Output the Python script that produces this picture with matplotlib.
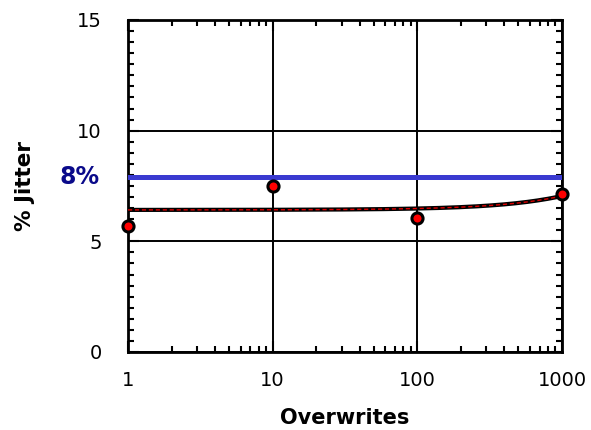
import numpy as np
import matplotlib.pyplot as plt
from matplotlib.ticker import MultipleLocator, LogLocator, NullFormatter, FixedLocator, FixedFormatter

# data
overwrites = [1, 10, 100, 1000]
jitter = [5.7, 7.5, 6.05, 7.15]

# straight-line fit (linear in overwrites) as drawn in the reference
fit_intercept = 6.42
fit_slope = 0.00063

target_level = 7.9
target_label = "8%"

x_ticks = [1, 10, 100, 1000]
x_tick_labels = ["1", "10", "100", "1000"]
y_ticks = [0, 5, 10, 15]

plt.rcParams["font.family"] = "DejaVu Sans"

fig = plt.figure(figsize=(5.91, 4.30), dpi=100)
ax = fig.add_axes([0.2166, 0.1814, 0.7344, 0.7721])

ax.set_xscale("log")
ax.set_xlim(1, 1000)
ax.set_ylim(0, 15)

# grid
ax.grid(True, which="major", color="black", linewidth=1.4)

# target line
ax.axhline(target_level, color="#3a3ad0", linewidth=3.6, zorder=3)

# fit line: black with red dashes on top
fit_x = np.logspace(0, 3, 300)
fit_y = fit_intercept + fit_slope * (fit_x - 1)
ax.plot(fit_x, fit_y, color="black", linewidth=3, zorder=4)
ax.plot(fit_x, fit_y, color="#dd0000", linewidth=1, linestyle=(0, (3, 2)), zorder=5)

# data points
ax.plot(overwrites, jitter, linestyle="none", marker="o", markersize=8,
        markerfacecolor="red", markeredgecolor="black", markeredgewidth=2.2,
        zorder=6, clip_on=False)

# ticks
ax.xaxis.set_major_locator(FixedLocator(x_ticks))
ax.xaxis.set_major_formatter(FixedFormatter(x_tick_labels))
ax.xaxis.set_minor_locator(LogLocator(base=10, subs=np.arange(2, 10)))
ax.xaxis.set_minor_formatter(NullFormatter())
ax.yaxis.set_major_locator(FixedLocator(y_ticks))
ax.yaxis.set_minor_locator(MultipleLocator(0.5))

ax.tick_params(which="both", direction="in", top=True, right=True, width=1.5)
ax.tick_params(which="major", length=8, labelsize=14)
ax.tick_params(which="minor", length=4)
ax.tick_params(axis="y", which="major", pad=19)
ax.tick_params(axis="x", which="major", pad=14)

for sp in ax.spines.values():
    sp.set_linewidth(2)

ax.set_xlabel("Overwrites", fontsize=15, fontweight="bold", labelpad=13)
ax.set_ylabel("% Jitter", fontsize=15.5, fontweight="bold", labelpad=30)

ax.text(-0.065, target_level, target_label, transform=ax.get_yaxis_transform(),
        color="#0a0a8a", fontsize=17, fontweight="bold", ha="right", va="center")

fig.savefig("out.png", dpi=100)
